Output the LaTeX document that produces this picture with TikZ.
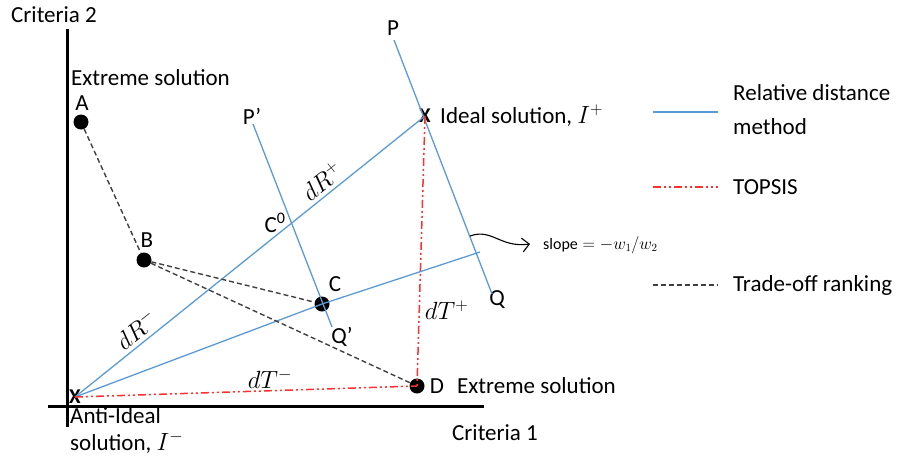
\documentclass[tikz,border=0pt]{standalone}
\usepackage{fontspec}
\setmainfont{Carlito}
\usetikzlibrary{arrows.meta}
\definecolor{RelBlue}{HTML}{5B9BD5}
\definecolor{TopRed}{HTML}{FF3030}
\definecolor{TradeGray}{HTML}{404040}
\tikzset{
  axis/.style={line width=3pt},
  rel/.style={draw=RelBlue, line width=1.3pt},
  topsis/.style={draw=TopRed, line width=1.5pt,
                 dash pattern=on 8pt off 3pt on 2pt off 3pt on 2pt off 3pt},
  trade/.style={draw=TradeGray, line width=1.4pt, dash pattern=on 5pt off 3pt},
  alt/.style={circle, fill=black, inner sep=0pt, minimum size=15pt},
  ideal/.style={inner sep=0pt, font=\fontsize{21}{22}\selectfont\bfseries},
  lbl/.style={inner sep=0pt},
  mlbl/.style={inner sep=0pt, font=\fontsize{25}{28}\selectfont}
}
\newcommand{\bigmath}[1]{{\fontsize{25}{28}\selectfont$#1$}}
\begin{document}
\begin{tikzpicture}[x=1pt, y=-1pt, font=\fontsize{23}{27}\selectfont]
  \useasboundingbox (0,0) rectangle (899,461);

  % axes
  \draw[axis] (67,29) -- (67,427);
  \draw[axis] (48,406) -- (484,406);
  \node[lbl, anchor=west] (crit2) at (11,15) {Criteria 2};
  \node[lbl, anchor=west] (crit1) at (452,433) {Criteria 1};

  % ideal and anti-ideal points
  \node[ideal] (Iplus) at (425,116) {X};
  \node[ideal] (Iminus) at (75,397) {X};
  \node[lbl, anchor=west] (IplusLbl) at (440,116) {Ideal solution, \bigmath{I^{+}}};
  \node[lbl, anchor=north west, align=left] (IminusLbl) at (70,407)
    {Anti-Ideal\\solution, \bigmath{I^{-}}};

  % alternatives
  \node[alt] (A) at (81,122) {};
  \node[alt] (B) at (144,260) {};
  \node[alt] (C) at (322,304) {};
  \node[alt] (D) at (417,386) {};
  \node[lbl] (Alab) at (82,103) {A};
  \node[lbl] (Blab) at (147,240) {B};
  \node[lbl] (Clab) at (335,284) {C};
  \node[lbl] (Dlab) at (437,386) {D};
  \node[lbl, anchor=west] (extA) at (71,78) {Extreme solution};
  \node[lbl, anchor=west] (extD) at (457,386) {Extreme solution};
  \node[lbl] (C0lab) at (275,223) {C$^{\mathrm{0}}$};

  % iso-lines
  \coordinate (P) at (394,40);
  \coordinate (Q) at (492,294);
  \coordinate (Pp) at (253,124);
  \coordinate (Qp) at (332,327);
  \coordinate (Cend) at (480,252);
  \node[lbl] (Plab) at (393,28) {P};
  \node[lbl] (Qlab) at (497,300) {Q};
  \node[lbl] (Pplab) at (252,116) {P’};
  \node[lbl] (Qplab) at (342,337) {Q’};

  % relative distance method
  \draw[rel] (P) -- (Q);
  \draw[rel] (Pp) -- (Qp);
  \draw[rel] (Iminus.center) -- node[mlbl, pos=0.2, above=4pt, sloped] {$dR^{-}$}
    node[mlbl, pos=0.73, above=4pt, sloped] {$dR^{+}$} (Iplus.center);
  \draw[rel] (Iminus.center) -- (C.center) -- (Cend);

  % topsis
  \draw[topsis] (Iplus.center) -- node[mlbl, pos=0.72, right=5pt] {$dT^{+}$} (D.center);
  \draw[topsis] (Iminus.center) -- node[mlbl, pos=0.57, above=1pt] {$dT^{-}$} (D.center);

  % trade-off ranking
  \draw[trade] (A) -- (B);
  \draw[trade] (B) -- (C);
  \draw[trade] (B) -- (D);

  % slope note
  \coordinate (sl0) at (470,236);
  \node[lbl, anchor=west, font=\fontsize{16}{18}\selectfont] (slope) at (543,245)
    {$\mathrm{slope}=-w_{1}/w_{2}$};
  \draw[-{Straight Barb[length=7pt, width=14pt]}, line width=1.1pt]
    (sl0) .. controls (492,228) and (500,248) .. (530,244);

  % legend
  \coordinate (l1a) at (653,112); \coordinate (l1b) at (718,112);
  \coordinate (l2a) at (653,187); \coordinate (l2b) at (718,187);
  \coordinate (l3a) at (653,285); \coordinate (l3b) at (718,285);
  \draw[rel] (l1a) -- (l1b);
  \draw[topsis] (l2a) -- (l2b);
  \draw[trade] (l3a) -- (l3b);
  \node[lbl, anchor=west] (leg1) at (733,93) {Relative distance};
  \node[lbl, anchor=west] (leg1b) at (733,127) {method};
  \node[lbl, anchor=west] (leg2) at (733,187) {TOPSIS};
  \node[lbl, anchor=west] (leg3) at (733,285) {Trade-off ranking};
\end{tikzpicture}
\end{document}
